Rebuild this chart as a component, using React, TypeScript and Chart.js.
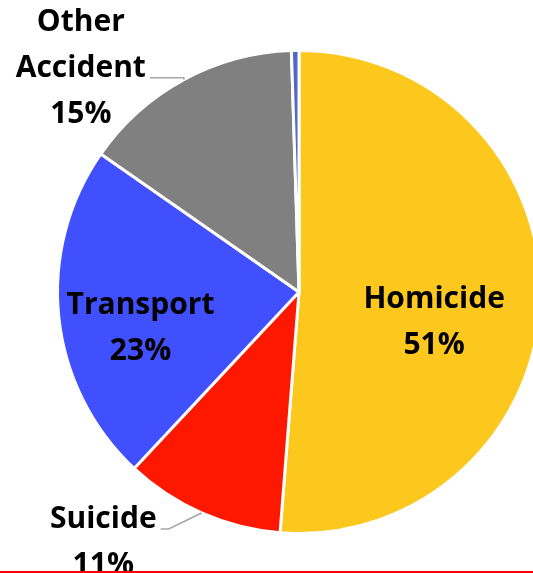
import React, { useEffect, useRef } from "react";
import { Chart, registerables } from "chart.js";

Chart.register(...registerables);

const categories = ["Homicide", "Suicide", "Transport", "Other Accident", "Undetermined"];
const shares = [51.2, 10.7, 22.7, 14.8, 0.5];
const percentLabels = ["51%", "11%", "23%", "15%", ""];
const sliceColors = ["#FDC81E", "#FF1800", "#4050FF", "#808080", "#5066CC"];

const FONT = 'bold 30px "Open Sans", "DejaVu Sans", sans-serif';
const LINE_H = 46;

// label placement styles per slice index
const placement: Record<number, any> = {
  0: { kind: "inside", f: 0.56, dx: 0, dy: 23 },
  2: { kind: "inside", f: 0.66, dx: 0, dy: 17 },
  3: { kind: "outside", elbowDx: 0, elbowDy: -2, tail: 34, leaderLine: 1 },
  1: { kind: "outside", elbowDx: -33, elbowDy: 16, tail: 8, leaderLine: 0 },
};

const labelPlugin = {
  id: "sliceLabels",
  afterDatasetsDraw(chart: any) {
    const ctx = chart.ctx;
    const meta = chart.getDatasetMeta(0);
    ctx.save();
    ctx.font = FONT;
    ctx.fillStyle = "#000000";
    ctx.textBaseline = "alphabetic";
    ctx.textAlign = "center";
    meta.data.forEach((arc: any, i: number) => {
      const p = placement[i];
      if (!p || !percentLabels[i]) return;
      const { x, y, startAngle, endAngle, outerRadius } = arc.getProps(
        ["x", "y", "startAngle", "endAngle", "outerRadius"],
        true
      );
      const mid = (startAngle + endAngle) / 2;
      const name = chart.data.labels[i] as string;
      const lines =
        name === "Other Accident" ? ["Other", "Accident", percentLabels[i]] : [name, percentLabels[i]];
      const capHalf = 11;
      if (p.kind === "inside") {
        const cx = x + Math.cos(mid) * outerRadius * p.f + p.dx;
        const cy = y + Math.sin(mid) * outerRadius * p.f + p.dy;
        const n = lines.length;
        lines.forEach((t, k) => {
          ctx.fillText(t, cx, cy + (k - (n - 1) / 2) * LINE_H + capHalf);
        });
      } else {
        const ex = x + Math.cos(mid) * outerRadius;
        const ey = y + Math.sin(mid) * outerRadius;
        const bx = ex + p.elbowDx;
        const by = ey + p.elbowDy;
        const tx = bx - p.tail;
        ctx.strokeStyle = "#A6A6A6";
        ctx.lineWidth = 1.5;
        ctx.beginPath();
        ctx.moveTo(ex, ey);
        ctx.lineTo(bx, by);
        ctx.lineTo(tx, by);
        ctx.stroke();
        const maxW = Math.max(...lines.map((t) => ctx.measureText(t).width));
        const cx = tx - 4 - maxW / 2;
        lines.forEach((t, k) => {
          ctx.fillText(t, cx, by - 1 + (k - p.leaderLine) * LINE_H);
        });
      }
    });
    ctx.restore();
  },
};

export default function App() {
  const ref = useRef<HTMLCanvasElement | null>(null);
  useEffect(() => {
    if (!ref.current) return;
    const chart = new Chart(ref.current, {
      type: "pie",
      data: {
        labels: categories,
        datasets: [
          {
            data: shares,
            backgroundColor: sliceColors,
            borderColor: "#FFFFFF",
            borderWidth: 3,
          },
        ],
      },
      options: {
        responsive: false,
        animation: false,
        devicePixelRatio: 1,
        layout: { padding: { top: 49, bottom: 38, left: 0, right: 0 } },
        plugins: { legend: { display: false }, tooltip: { enabled: false } },
      },
      plugins: [labelPlugin],
    });
    return () => chart.destroy();
  }, []);
  return (
    <div
      style={{
        position: "fixed",
        left: 0,
        top: 0,
        width: 533,
        height: 573,
        overflow: "hidden",
        background: "#FFFFFF",
      }}
    >
      <canvas ref={ref} width={598} height={573} style={{ display: "block" }} />
      <div
        style={{
          position: "absolute",
          left: 0,
          top: 571,
          width: 533,
          height: 2,
          background: "#FF0000",
        }}
      />
    </div>
  );
}
